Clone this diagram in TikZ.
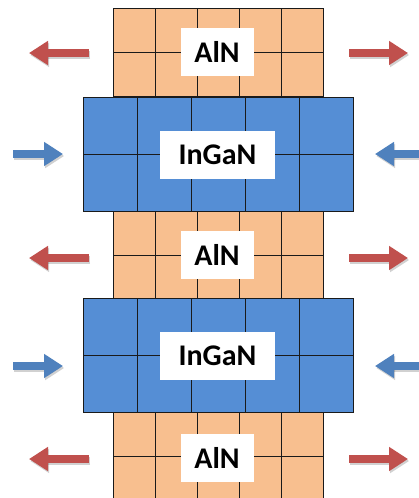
\documentclass[tikz,border=0pt]{standalone}
\usepackage{fontspec}
\setmainfont{Carlito}
\usetikzlibrary{arrows.meta}
\definecolor{aln}{HTML}{F8BF8F}
\definecolor{ingan}{HTML}{558ED5}
\definecolor{redarr}{HTML}{C0504D}
\definecolor{bluearr}{HTML}{4F81BD}
\definecolor{gridc}{HTML}{1A1A1A}
\begin{document}
\begin{tikzpicture}[x=1pt,y=-1pt,
  gridline/.style={draw=gridc,line width=1pt},
  label/.style={fill=white,inner sep=0pt,minimum height=48pt,font=\bfseries\fontsize{30}{36}\selectfont},
  fatarrow/.style={line width=8pt,-{Triangle[width=23pt,length=19pt]}},
  arrshadow/.style={fatarrow,draw=black,opacity=0.18,transform canvas={shift={(1.2pt,-2pt)}}}]
\useasboundingbox (0,0) rectangle (419,498);
\clip (0,0) rectangle (419,498);
% AlN layers
\foreach \t in {8,211,412}{
  \fill[aln] (113,\t) rectangle (323,\t+88);
  \foreach \x in {155,197,239,281} \draw[gridline] (\x,\t) -- (\x,\t+88);
  \draw[gridline] (113,\t+44) -- (323,\t+44);
  \draw[gridline] (113,\t) rectangle (323,\t+88);
}
% InGaN layers
\foreach \t in {97,298}{
  \fill[ingan] (83,\t) rectangle (353,\t+114);
  \foreach \x in {137,191,245,299} \draw[gridline] (\x,\t) -- (\x,\t+114);
  \draw[gridline] (83,\t+57) -- (353,\t+57);
  \draw[gridline] (83,\t) rectangle (353,\t+114);
}
% labels
\node[label,minimum width=73pt] (a1) at (217,52) {AlN};
\node[label,minimum width=115pt] (g1) at (217.5,154.5) {InGaN};
\node[label,minimum width=73pt] (a2) at (217,255) {AlN};
\node[label,minimum width=115pt] (g2) at (217.5,355.5) {InGaN};
\node[label,minimum width=73pt] (a3) at (217,458) {AlN};
% arrows
\foreach \y [count=\i] in {53,258,459}{
  \coordinate (rlt\i) at (89,\y); \coordinate (rlh\i) at (29,\y);
  \coordinate (rrt\i) at (349,\y); \coordinate (rrh\i) at (408,\y);
  \draw[arrshadow] (rlt\i) -- (rlh\i);
  \draw[arrshadow] (rrt\i) -- (rrh\i);
  \draw[fatarrow,draw=redarr] (rlt\i) -- (rlh\i);
  \draw[fatarrow,draw=redarr] (rrt\i) -- (rrh\i);
}
\foreach \y [count=\i] in {154,366}{
  \coordinate (blt\i) at (13,\y); \coordinate (blh\i) at (63,\y);
  \coordinate (brt\i) at (428,\y); \coordinate (brh\i) at (375,\y);
  \draw[arrshadow] (blt\i) -- (blh\i);
  \draw[arrshadow] (brt\i) -- (brh\i);
  \draw[fatarrow,draw=bluearr] (blt\i) -- (blh\i);
  \draw[fatarrow,draw=bluearr] (brt\i) -- (brh\i);
}
\end{tikzpicture}
\end{document}
